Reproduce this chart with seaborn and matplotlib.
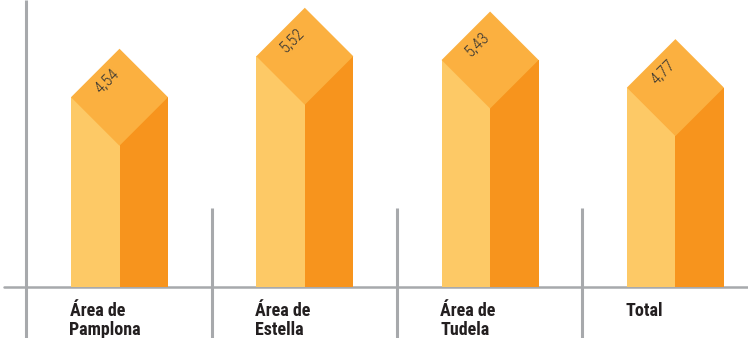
import numpy as np
import pandas as pd
import matplotlib
matplotlib.use("Agg")
import matplotlib.pyplot as plt
from matplotlib import font_manager
import seaborn as sns

# ---- data ----
categories = ["Área de\nPamplona", "Área de\nEstella", "Área de\nTudela", "Total"]
values = [4.54, 5.52, 5.43, 4.77]
value_labels = ["4,54", "5,52", "5,43", "4,77"]

# ---- style ----
col_left = "#fdc966"
col_right = "#f7941d"
col_top = "#fbb040"
col_grid = "#a7a9ac"
col_text = "#231f20"

sns.set_theme(style="white")

available = {f.name for f in font_manager.fontManager.ttflist}
narrow = None
for cand in ["Liberation Sans Narrow", "Roboto Condensed", "Open Sans Condensed",
             "DejaVu Sans Condensed", "Roboto", "Liberation Sans"]:
    if cand in available:
        narrow = cand
        break
if narrow is None:
    narrow = "DejaVu Sans"
plt.rcParams["font.family"] = [narrow, "DejaVu Sans"]

W, H = 748, 338
fig = plt.figure(figsize=(W / 100, H / 100), dpi=100)
ax = fig.add_axes([0, 0, 1, 1])

px_per_cat = 185.3
px_per_unit = 41.8
x0_px = 119.5
base_px = 287  # from top

half_w = 48.5 / px_per_cat
half_h = 48.5 / px_per_unit

df = pd.DataFrame({
    "cat": categories * 2,
    "val": values * 2,
    "face": ["left"] * len(values) + ["right"] * len(values),
})
sns.barplot(data=df, x="cat", y="val", hue="face", order=categories,
            palette=[col_left, col_right], width=2 * half_w, dodge=True,
            gap=0, saturation=1, legend=False, ax=ax, linewidth=0, zorder=2)

ax.set_xlim(-x0_px / px_per_cat, (W - x0_px) / px_per_cat)
ax.set_ylim(-(H - base_px) / px_per_unit, base_px / px_per_unit)

for i, (v, lab) in enumerate(zip(values, value_labels)):
    xs = [i - half_w, i, i + half_w, i]
    ys = [v, v + half_h, v, v - half_h]
    ax.fill(xs, ys, color=col_top, lw=0, zorder=3)
    tx = i - 13 / px_per_cat
    ty = v + 16 / px_per_unit
    ax.text(tx, ty, lab, rotation=45, ha="center", va="center",
            fontsize=12, fontweight="light", color="#333333", zorder=4,
            rotation_mode="anchor")
    ax.text(i - half_w - 1.5 / px_per_cat, -15 / px_per_unit, categories[i],
            ha="left", va="top", fontsize=13, fontweight="bold",
            color=col_text, linespacing=1.05, zorder=4)

ymin, ymax = ax.get_ylim()
# separators
ax.plot([-0.505, -0.505], [ymin, ymax], color=col_grid, lw=2.2, zorder=1,
        solid_capstyle="butt")
for i in range(1, len(values)):
    ax.plot([i - 0.503, i - 0.503], [ymin, (base_px - 208) / px_per_unit],
            color=col_grid, lw=2.2, zorder=1, solid_capstyle="butt")
ax.plot([(4 - x0_px) / px_per_cat, ax.get_xlim()[1]], [0, 0], color=col_grid,
        lw=1.8, zorder=1)

ax.set_axis_off()
fig.savefig("out.png", dpi=100)
